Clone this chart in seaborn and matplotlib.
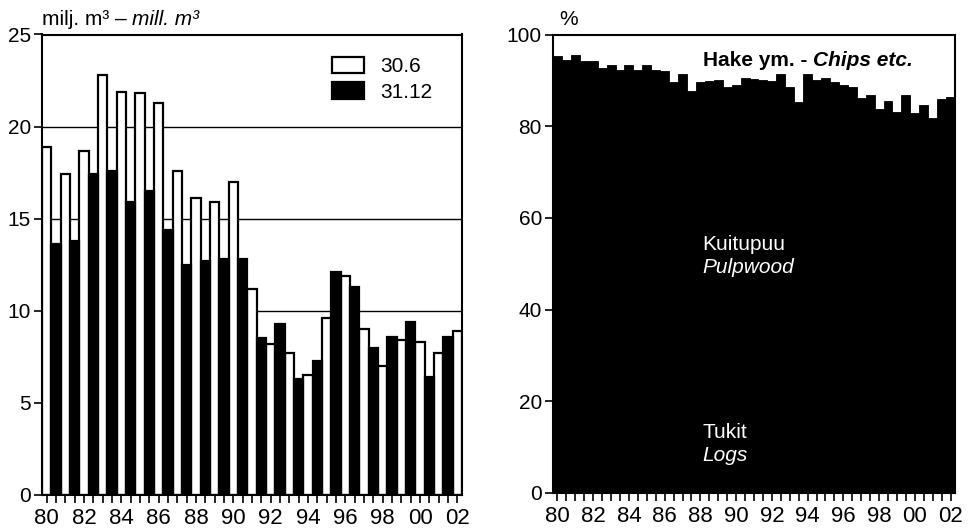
import numpy as np
import pandas as pd
import matplotlib
matplotlib.use("Agg")
import matplotlib.pyplot as plt
import matplotlib.patches as mpatches
from matplotlib import font_manager
import seaborn as sns

# ---------------- data ----------------
years = list(range(1980, 2003))
# stocks, million m3, at 30 June and 31 December
stock_june = [18.9, 17.4, 18.7, 22.8, 21.9, 21.8, 21.3, 17.6, 16.1, 15.9, 17.0, 11.2,
              8.2, 7.7, 6.5, 9.6, 11.9, 9.0, 7.0, 8.4, 8.3, 7.7, 8.9]
stock_dec = [13.6, 13.8, 17.4, 17.6, 15.9, 16.5, 14.4, 12.5, 12.7, 12.8, 12.8, 8.5,
             9.3, 6.3, 7.3, 12.1, 11.3, 8.0, 8.6, 9.4, 6.4, 8.6]
period_labels = ["30.6", "31.12"]
year_labels = ["80", "82", "84", "86", "88", "90", "92", "94", "96", "98", "00", "02"]

# share of logs + pulpwood (Tukit + Kuitupuu), %, half-yearly; rest = chips etc.
roundwood_share = [95.3, 94.4, 95.6, 94.2, 94.2, 92.6, 93.4, 92.2, 93.4, 92.2,
                   93.4, 92.2, 92.0, 89.7, 91.3, 87.6, 89.7, 89.9, 90.0, 88.6,
                   89.0, 90.5, 90.2, 90.0, 89.9, 91.3, 88.5, 85.3, 91.3, 90.0,
                   90.5, 89.7, 88.9, 88.6, 86.2, 86.8, 83.8, 85.5, 83.0, 86.8,
                   82.8, 84.6, 81.8, 85.9, 86.4]

# ---------------- style ----------------
sns.set_theme(style="white")
names = {f.name for f in font_manager.fontManager.ttflist}
narrow = "Liberation Sans Narrow" if "Liberation Sans Narrow" in names else "Liberation Sans"
plt.rcParams["font.family"] = [narrow, "Liberation Sans", "DejaVu Sans"]
for k in ["axes.edgecolor", "text.color", "xtick.color", "ytick.color", "axes.labelcolor"]:
    plt.rcParams[k] = "black"

# ---------------- frames ----------------
rows = []
for i, y in enumerate(years):
    rows.append({"pos": 2 * (y - 1980), "value": stock_june[i], "period": period_labels[0]})
    if i < len(stock_dec):
        rows.append({"pos": 2 * (y - 1980) + 1, "value": stock_dec[i], "period": period_labels[1]})
df1 = pd.DataFrame(rows)

n2 = len(roundwood_share)
df2 = pd.DataFrame({"pos": np.arange(n2),
                    "roundwood": roundwood_share,
                    "total": np.full(n2, 100.0)})

W, H = 969, 531
fig = plt.figure(figsize=(W / 100, H / 100), dpi=100)
ax1 = fig.add_axes([42 / W, 1 - 495 / H, 420 / W, 460.5 / H])
ax2 = fig.add_axes([553 / W, 1 - 493 / H, 402 / W, 458.5 / H])

TICK = 15
XTICK = 16
LW = 1.6

# ---------------- left chart ----------------
for yv in [5, 10, 15, 20]:
    ax1.axhline(yv, color="black", lw=1.0, zorder=0.5)
sns.barplot(data=df1, x="pos", y="value", hue="period",
            palette={period_labels[0]: "white", period_labels[1]: "black"},
            dodge=False, native_scale=True, width=1.0, errorbar=None,
            edgecolor="black", linewidth=LW, legend=False, ax=ax1, zorder=2)
ax1.set_xlim(-0.5, 44.5)
ax1.set_ylim(0, 25)
ax1.set_yticks([0, 5, 10, 15, 20, 25])
ax1.set_xticks(np.arange(0, 45, 4))
ax1.set_xticklabels(year_labels)
ax1.set_xticks(np.arange(0, 45, 1), minor=True)
ax1.set_xlabel("")
ax1.set_ylabel("")
handles = [mpatches.Patch(facecolor="white", edgecolor="black", linewidth=LW),
           mpatches.Patch(facecolor="black", edgecolor="black", linewidth=LW)]
ax1.legend(handles, period_labels, loc="upper left", bbox_to_anchor=(0.67, 0.97),
           frameon=False, handlelength=1.55, handleheight=0.85, fontsize=TICK,
           labelspacing=0.3, handletextpad=0.8, borderaxespad=0)
t1 = ax1.text(0.0, 1.012, "milj. m³ – ", transform=ax1.transAxes,
              fontsize=TICK, va="bottom", ha="left")
ax1.annotate("mill. m³", xy=(1, 0), xycoords=t1, fontsize=TICK,
             va="bottom", ha="left", style="italic")

# ---------------- right chart ----------------
sns.barplot(data=df2, x="pos", y="total", color="white", native_scale=True,
            width=1.0, errorbar=None, linewidth=0, ax=ax2, zorder=1)
sns.barplot(data=df2, x="pos", y="roundwood", color="black", native_scale=True,
            width=1.0, errorbar=None, edgecolor="black", linewidth=0.6,
            ax=ax2, zorder=2)
ax2.set_xlim(-0.5, n2 - 0.5)
ax2.set_ylim(0, 100)
ax2.set_yticks([0, 20, 40, 60, 80, 100])
ax2.set_xticks(np.arange(0, n2, 4))
ax2.set_xticklabels(year_labels)
ax2.set_xticks(np.arange(0, n2, 1), minor=True)
ax2.set_xlabel("")
ax2.set_ylabel("")
ax2.text(0.015, 1.012, "%", transform=ax2.transAxes, fontsize=TICK, va="bottom", ha="left")

ht = ax2.text(0.372, 0.932, "Hake ym. - ", transform=ax2.transAxes, fontsize=TICK,
              fontweight="bold", va="baseline", ha="left", zorder=5)
ax2.annotate("Chips etc.", xy=(1, 0), xycoords=ht, fontsize=TICK, fontweight="bold",
             style="italic", va="bottom", ha="left", zorder=5)
ax2.text(0.372, 0.53, "Kuitupuu", transform=ax2.transAxes, fontsize=TICK,
         color="white", va="baseline", ha="left", zorder=5)
ax2.text(0.372, 0.48, "Pulpwood", transform=ax2.transAxes, fontsize=TICK,
         color="white", style="italic", va="baseline", ha="left", zorder=5)
ax2.text(0.372, 0.12, "Tukit", transform=ax2.transAxes, fontsize=TICK,
         color="white", va="baseline", ha="left", zorder=5)
ax2.text(0.372, 0.07, "Logs", transform=ax2.transAxes, fontsize=TICK,
         color="white", style="italic", va="baseline", ha="left", zorder=5)

for ax in (ax1, ax2):
    for s in ax.spines.values():
        s.set_visible(True)
        s.set_color("black")
        s.set_linewidth(1.5)
    ax.tick_params(axis="both", which="both", direction="out", color="black",
                   width=1.2, labelcolor="black")
    ax.tick_params(axis="y", labelsize=TICK)
    ax.tick_params(axis="x", which="both", length=6, pad=3, bottom=True, labelsize=XTICK)
    ax.tick_params(axis="y", which="major", length=6, left=True, pad=2)
    ax.set_facecolor("white")
    ax.grid(False)

fig.savefig("out.png", dpi=100, facecolor="white")
